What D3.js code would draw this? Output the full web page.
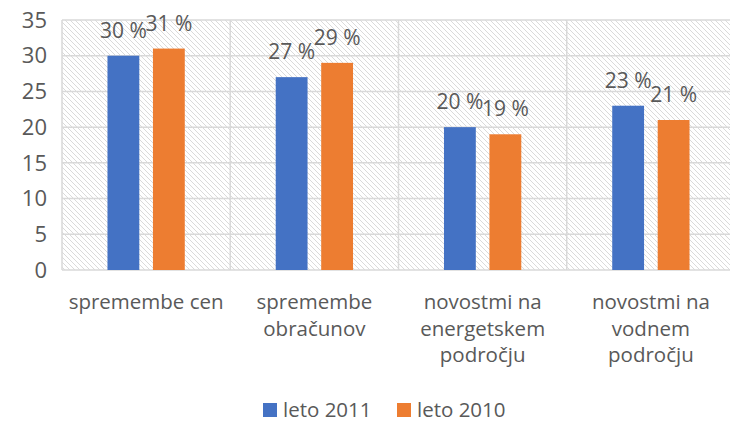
<!DOCTYPE html>
<html>
<head>
<meta charset="utf-8">
<script src="https://cdn.jsdelivr.net/npm/d3@7"></script>
<style>
  body { margin: 0; background: #fff; }
  text { font-family: "Open Sans", sans-serif; fill: #595959; }
</style>
</head>
<body>
<svg width="730" height="423"></svg>
<script>
var categories = [
    ["spremembe cen"],
    ["spremembe", "obračunov"],
    ["novostmi na", "energetskem", "področju"],
    ["novostmi na", "vodnem", "področju"]
];
var seriesNames = ["leto 2011", "leto 2010"];
var leto2011 = [30, 27, 20, 23];
var leto2010 = [31, 29, 19, 21];
var yTicks = [0, 5, 10, 15, 20, 25, 30, 35];
var colors = ["#4472c4", "#ed7d31"];

var svg = d3.select("svg"),
    width = +svg.attr("width"),
    height = +svg.attr("height");

var margin = { top: 20, left: 62, bottom: 153 },
    plotRight = 735;

var x = d3.scaleBand()
    .domain(d3.range(categories.length))
    .range([margin.left, plotRight]);

var y = d3.scaleLinear()
    .domain([0, 35])
    .range([height - margin.bottom, margin.top]);

var x1 = d3.scaleBand()
    .domain([0, 1])
    .range([0, x.bandwidth()])
    .paddingInner(0.3)
    .paddingOuter(1.0);

// hatched background
var defs = svg.append("defs");
var pat = defs.append("pattern")
    .attr("id", "hatch")
    .attr("patternUnits", "userSpaceOnUse")
    .attr("width", 5)
    .attr("height", 5);
pat.append("path")
    .attr("d", "M0,0 L5,5 M-1,4 L1,6 M4,-1 L6,1")
    .attr("stroke", "#dadada")
    .attr("stroke-width", 1);

svg.append("rect")
    .attr("x", margin.left)
    .attr("y", margin.top)
    .attr("width", plotRight - margin.left)
    .attr("height", y(0) - margin.top)
    .attr("fill", "url(#hatch)");

// gridlines
var grid = svg.append("g")
    .attr("stroke", "#d9d9d9")
    .attr("stroke-width", 1.5);

grid.selectAll("line.h")
    .data(yTicks)
    .join("line")
    .attr("x1", margin.left)
    .attr("x2", plotRight)
    .attr("y1", d => y(d))
    .attr("y2", d => y(d));

grid.selectAll("line.v")
    .data(d3.range(categories.length + 1))
    .join("line")
    .attr("x1", d => d < categories.length ? x(d) : plotRight)
    .attr("x2", d => d < categories.length ? x(d) : plotRight)
    .attr("y1", margin.top)
    .attr("y2", y(0));

// y axis labels
svg.append("g")
    .selectAll("text")
    .data(yTicks)
    .join("text")
    .attr("x", 47)
    .attr("y", d => y(d))
    .attr("dy", "0.35em")
    .attr("text-anchor", "end")
    .attr("font-size", 22)
    .text(d => d);

// bars
var series = [leto2011, leto2010];
var groups = svg.append("g")
    .selectAll("g")
    .data(series)
    .join("g")
    .attr("fill", (d, i) => colors[i]);

groups.selectAll("rect")
    .data((d, si) => d.map((v, ci) => ({ v: v, ci: ci, si: si })))
    .join("rect")
    .attr("x", d => x(d.ci) + x1(d.si))
    .attr("width", x1.bandwidth())
    .attr("y", d => y(d.v))
    .attr("height", d => y(0) - y(d.v));

// data labels
svg.append("g")
    .selectAll("text")
    .data(series.flatMap((s, si) => s.map((v, ci) => ({ v: v, ci: ci, si: si }))))
    .join("text")
    .attr("x", d => x(d.ci) + x1(d.si) + x1.bandwidth() / 2)
    .attr("y", d => y(d.v) - 18)
    .attr("text-anchor", "middle")
    .attr("font-size", 21)
    .text(d => d.v + " %");

// category labels
var cat = svg.append("g")
    .selectAll("text")
    .data(categories)
    .join("text")
    .attr("text-anchor", "middle")
    .attr("font-size", 20.5)
    .attr("transform", (d, i) => "translate(" + (x(i) + x.bandwidth() / 2) + "," + 309 + ")");

cat.selectAll("tspan")
    .data(d => d)
    .join("tspan")
    .attr("x", 0)
    .attr("y", (d, i) => i * 26.5)
    .text(d => d);

// legend
var legend = svg.append("g")
    .selectAll("g")
    .data(seriesNames)
    .join("g")
    .attr("transform", (d, i) => "translate(" + (263 + i * 134) + ",403)");

legend.append("rect")
    .attr("width", 14)
    .attr("height", 14)
    .attr("fill", (d, i) => colors[i]);

legend.append("text")
    .attr("x", 20)
    .attr("y", 7)
    .attr("dy", "0.35em")
    .attr("font-size", 20.5)
    .text(d => d);
</script>
</body>
</html>
